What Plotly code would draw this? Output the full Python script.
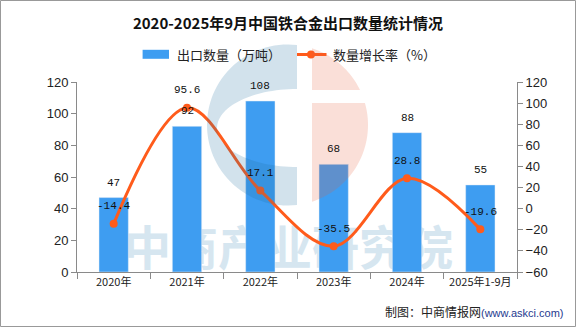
import math
import plotly.graph_objects as go

# ---- data ----
categories = ["2020年", "2021年", "2022年", "2023年", "2024年", "2025年1-9月"]
export_qty = [47, 92, 108, 68, 88, 55]          # 出口数量（万吨）
growth_rate = [-14.4, 95.6, 17.1, -35.5, 28.8, -19.6]  # 数量增长率（%）
bar_name = "出口数量（万吨）"
line_name = "数量增长率（%）"
title_text = "2020-2025年9月中国铁合金出口数量统计情况"
source_text = "制图：中商情报网"
source_url = "(www.askci.com)"
watermark = "中商产业研究院"

BAR_COLOR = "#3E9DF1"
LINE_COLOR = "#FF5B1B"
AXIS_COLOR = "#8a8a8a"
TEXT_COLOR = "#222222"

W, H = 576, 327
L, R, T, B = 77, 59, 82, 55
PW, PH = W - L - R, H - T - B


def px(x):
    return (x - L) / PW


def py(y):
    return (H - B - y) / PH


fig = go.Figure()
fig.add_trace(go.Bar(x=categories, y=export_qty, name=bar_name, marker_color=BAR_COLOR,
                     width=0.4, yaxis="y", showlegend=False, hoverinfo="skip"))
fig.add_trace(go.Scatter(x=categories, y=growth_rate, name=line_name, yaxis="y2",
                         mode="lines+markers", line=dict(color=LINE_COLOR, width=3, shape="spline", smoothing=1),
                         marker=dict(color=LINE_COLOR, size=8), showlegend=False, hoverinfo="skip"))

annotations = []
label_font = dict(family="Liberation Mono, DejaVu Sans Mono, monospace", size=11, color="#111111")
for c, v in zip(categories, export_qty):
    annotations.append(dict(x=c, y=v, xref="x", yref="y", text=str(v), showarrow=False,
                            yshift=15, font=label_font))
for c, v in zip(categories, growth_rate):
    annotations.append(dict(x=c, y=v, xref="x", yref="y2", text=f"{v:g}", showarrow=False,
                            yshift=17.5, font=label_font))

cjk = "Noto Sans CJK SC, Noto Sans, sans-serif"
# legend (manual)
annotations.append(dict(x=px(174.5), y=py(54.5), xref="paper", yref="paper", xanchor="left", yanchor="middle",
                        text=bar_name, showarrow=False, font=dict(family=cjk, size=13, color=TEXT_COLOR)))
annotations.append(dict(x=px(331), y=py(54.5), xref="paper", yref="paper", xanchor="left", yanchor="middle",
                        text=line_name, showarrow=False, font=dict(family=cjk, size=13, color=TEXT_COLOR)))
# source
annotations.append(dict(x=px(566), y=py(311), xref="paper", yref="paper", xanchor="right", yanchor="middle",
                        text=source_text + f"<span style='color:#1f3a8f;font-size:11px;font-family:Liberation Sans'>{source_url}</span>",
                        showarrow=False, font=dict(family=cjk, size=12, color=TEXT_COLOR)))

shapes = []
# outer border
shapes.append(dict(type="rect", xref="paper", yref="paper", x0=px(0.5), x1=px(575.5), y0=py(326.5), y1=py(0.5),
                   line=dict(color="#999999", width=1), fillcolor="rgba(0,0,0,0)", layer="above"))
# legend glyphs
shapes.append(dict(type="rect", xref="paper", yref="paper", x0=px(142.6), x1=px(169), y0=py(58.8), y1=py(49.8),
                   line=dict(width=0), fillcolor=BAR_COLOR, layer="above"))
shapes.append(dict(type="line", xref="paper", yref="paper", x0=px(297), x1=px(326.5), y0=py(54.5), y1=py(54.5),
                   line=dict(color=LINE_COLOR, width=3), layer="above"))
shapes.append(dict(type="circle", xref="paper", yref="paper", x0=px(307), x1=px(315), y0=py(58.5), y1=py(50.5),
                   line=dict(width=0), fillcolor=LINE_COLOR, layer="above"))

# watermark text (below bars)
shapes.append(dict(type="rect", xref="paper", yref="paper", x0=px(110), x1=px(467), y0=py(272), y1=py(232),
                   line=dict(width=0), fillcolor="rgba(0,0,0,0)", layer="below",
                   label=dict(text=watermark, textposition="middle center",
                              font=dict(family="Noto Sans CJK SC", size=47, color="#d6e6f0", weight="bold"))))

# logo watermark (approximate)
cx, cy, r = 287.5, 125, 80.5


def pt(x, y):
    return f"{px(x):.5f},{py(y):.5f}"


def circ(theta_deg):
    t = math.radians(theta_deg)
    return cx + r * math.cos(t), cy + r * math.sin(t)


# blue C
n = 60
t0 = -math.degrees(math.acos((297 - cx) / r))
pts = [circ(t0 - (360 - 2 * abs(t0)) * i / n) for i in range(n + 1)]
ex, ey, erx, ery = 297, 128, 80, 39
ell = [(ex - erx * math.sin(math.pi * i / n), ey + ery * math.cos(math.pi * i / n)) for i in range(n + 1)]
path = "M" + " L".join(pt(x, y) for x, y in pts) + " L" + " L".join(pt(x, y) for x, y in ell) + " Z"
shapes.append(dict(type="path", xref="paper", yref="paper", path=path, fillcolor="rgb(31,111,160)",
                   opacity=0.2, line=dict(width=0), layer="above"))

# orange right part
a_top = -math.degrees(math.acos((312 - cx) / r))
a_band1 = math.degrees(math.asin((90 - cy) / r))
a_band2 = math.degrees(math.asin((103 - cy) / r))
a_bot = -a_top
top = [circ(a_top + (a_band1 - a_top) * i / 30) for i in range(31)]
bot = [circ(a_band2 + (a_bot - a_band2) * i / 40) for i in range(41)]
path2 = ("M" + pt(312, 90) + " L" + " L".join(pt(x, y) for x, y in top) + " Z "
         + "M" + pt(312, 103) + " L" + " L".join(pt(x, y) for x, y in bot) + " Z")
shapes.append(dict(type="path", xref="paper", yref="paper", path=path2, fillcolor="rgb(232,96,58)",
                   opacity=0.2, line=dict(width=0), layer="above"))

tickfont = dict(family="Liberation Sans, Arial, sans-serif", size=13, color=TEXT_COLOR)
fig.update_layout(
    width=W, height=H,
    margin=dict(l=L, r=R, t=T, b=B, pad=0),
    paper_bgcolor="white", plot_bgcolor="white",
    title=dict(text=f"<b>{title_text}</b>", x=0.5, xanchor="center", y=1 - 24 / H, yanchor="middle",
               font=dict(family=cjk, size=15, color="#111111")),
    xaxis=dict(type="category", range=[-0.5, 5.5], tickson="boundaries", ticks="outside", ticklen=6,
               tickcolor=AXIS_COLOR, showline=True, linecolor=AXIS_COLOR, linewidth=1, showgrid=False,
               tickfont=dict(family=cjk, size=11, color=TEXT_COLOR)),
    yaxis=dict(range=[0, 120], dtick=20, ticks="outside", ticklen=5, tickcolor=AXIS_COLOR, showline=True,
               linecolor=AXIS_COLOR, showgrid=False, zeroline=False, tickfont=tickfont),
    yaxis2=dict(range=[-60, 120], dtick=20, overlaying="y", side="right", ticks="outside", ticklen=5,
                tickcolor=AXIS_COLOR, showline=True, linecolor=AXIS_COLOR, showgrid=False, zeroline=False,
                tickfont=tickfont),
    annotations=annotations,
    shapes=shapes,
    showlegend=False,
)

fig.write_html("out.html")
